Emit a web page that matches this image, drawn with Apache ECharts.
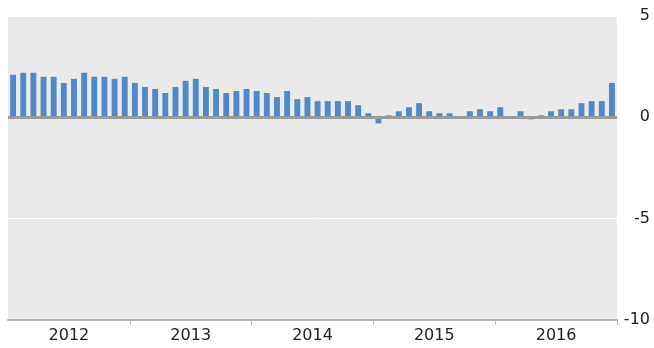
<!DOCTYPE html>
<html>
<head>
<meta charset="utf-8">
<script src="https://cdn.jsdelivr.net/npm/echarts@6/dist/echarts.min.js"></script>
<style>
  html, body { margin: 0; padding: 0; background: #fff; }
  #chart { width: 654px; height: 348px; }
</style>
</head>
<body>
<div id="chart"></div>
<script>
// Monthly values, January 2012 to December 2016
const years = ['2012', '2013', '2014', '2015', '2016'];
const months = [];
years.forEach(y => { for (let m = 1; m <= 12; m++) months.push(y + '-' + String(m).padStart(2, '0')); });

const values2012 = [2.1, 2.2, 2.2, 2.0, 2.0, 1.7, 1.9, 2.2, 2.0, 2.0, 1.9, 2.0];
const values2013 = [1.7, 1.5, 1.4, 1.2, 1.5, 1.8, 1.9, 1.5, 1.4, 1.2, 1.3, 1.4];
const values2014 = [1.3, 1.2, 1.0, 1.3, 0.9, 1.0, 0.8, 0.8, 0.8, 0.8, 0.6, 0.2];
const values2015 = [-0.3, 0.1, 0.3, 0.5, 0.7, 0.3, 0.2, 0.2, 0.0, 0.3, 0.4, 0.3];
const values2016 = [0.5, 0.0, 0.3, -0.1, 0.1, 0.3, 0.4, 0.4, 0.7, 0.8, 0.8, 1.7];
const values = [].concat(values2012, values2013, values2014, values2015, values2016);

const yTicks = [5, 0, -5, -10];

const chart = echarts.init(document.getElementById('chart'));
const font = 'DejaVu Sans';

chart.setOption({
  animation: false,
  grid: {
    left: 8, right: 37, top: 16, bottom: 28,
    show: true, backgroundColor: '#eaeaea', borderWidth: 0
  },
  xAxis: [
    {
      type: 'category', data: months, show: false
    },
    {
      type: 'category', data: years, position: 'bottom',
      axisLine: { show: true, lineStyle: { color: '#b4b4b4', width: 2 } },
      axisTick: {
        show: true, length: 5,
        interval: (i) => i > 0,
        lineStyle: { color: '#b4b4b4', width: 1 }
      },
      axisLabel: { color: '#222', fontFamily: font, fontSize: 16, margin: 8 },
      splitLine: { show: false }
    }
  ],
  yAxis: {
    type: 'value', position: 'right',
    min: Math.min(...yTicks), max: Math.max(...yTicks), interval: 5,
    axisLine: { show: false }, axisTick: { show: false },
    axisLabel: { color: '#222', fontFamily: font, fontSize: 16, align: 'right', margin: 33 },
    splitLine: { show: true, lineStyle: { color: '#ffffff', width: 1 } }
  },
  series: [{
    type: 'bar',
    xAxisIndex: 0,
    data: values,
    barCategoryGap: '42%',
    itemStyle: { color: '#5189c8' },
    markLine: {
      silent: true, symbol: 'none', label: { show: false },
      lineStyle: { color: '#9a9a9a', width: 3, type: 'solid' },
      data: [{ yAxis: 0 }]
    }
  }]
});
</script>
</body>
</html>
